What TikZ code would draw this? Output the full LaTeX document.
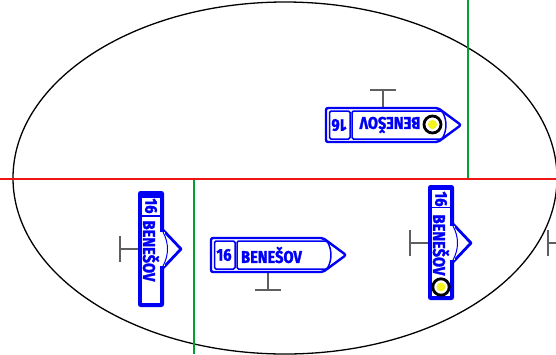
\documentclass[tikz,border=0pt]{standalone}
\usepackage{fontspec}
\newfontfamily\signfont{Fira Sans}[UprightFont=* Bold,FakeBold=1.6,FakeStretch=0.86]
\definecolor{signblue}{RGB}{0,0,245}
\definecolor{axisred}{RGB}{240,20,20}
\definecolor{axisgreen}{RGB}{0,160,50}
\definecolor{postgray}{RGB}{95,95,95}
\definecolor{dotyellow}{RGB}{245,245,30}
\tikzset{
 signtxt/.style={text=signblue,inner sep=0pt,font=\signfont\fontsize{17}{18}\selectfont},
 postline/.style={draw=postgray,line width=2.4pt},
 frameouter/.style={draw=signblue,fill=white,line width=2.4pt,rounded corners=2pt,line join=round},
 frameinner/.style={draw=signblue,fill=white,line width=1.5pt,rounded corners=1.5pt},
 dotring/.style={draw=black,fill=white,line width=2.8pt},
 dotcore/.style={fill=dotyellow,draw=none}
}
\newcommand{\longsign}{%
 \draw[postline] (0,17)--(0,35) (-13,35)--(13,35);
 \draw[frameouter] (-57,-17)--(55,-17)--(78,0)--(55,17)--(-57,17)--cycle;
 \draw[frameinner] (-53.5,-14)--(-33,-14)--(-33,14)--(-53.5,14)--cycle;
 \draw[frameinner] (-31,-14)--(59,-14) .. controls (64,-5) and (64,5) .. (59,14)--(-31,14)--cycle;
}
% #1 = top of the white number box, #2 = height of the sign
\newcommand{\tallsign}[2]{%
 \draw[postline] (0,58)--(-18,58) (-18,45)--(-18,71);
 \draw[draw=signblue,fill=white,line width=2.8pt,line join=round] (25,39)--(43,58)--(25,77)--cycle;
 \fill[signblue,rounded corners=2.5pt] (0,0) rectangle (26,#2);
 \fill[white] (4,#1) rectangle (22,#1+17);
 \fill[white] (4,#1+18.6) rectangle (22,#2-4);
 \fill[white] (21,41) rectangle (26.5,75);
 \draw[signblue,line width=1pt] (25,41) .. controls (31,52) and (31,64) .. (25,75);
}
\begin{document}
\begin{tikzpicture}[x=1pt,y=-1pt]
\useasboundingbox (0,0) rectangle (556,354);
\fill[white] (0,0) rectangle (556,354);
\coordinate (redL) at (0,179); \coordinate (redR) at (556,179);
\coordinate (g1a) at (194,179); \coordinate (g1b) at (194,354);
\coordinate (g2a) at (468,0); \coordinate (g2b) at (468,179);
\draw[black,line width=1.3pt] (285,178) ellipse [x radius=272,y radius=176];
\draw[axisgreen,line width=1.3pt] (g1a)--(g1b) (g2a)--(g2b);
\draw[axisred,line width=1.3pt] (redL)--(redR);
% lower horizontal sign
\begin{scope}[shift={(268,255)}]\longsign\end{scope}
\node[signtxt] (lo16) at (224,255) {16};
\node[signtxt] (loname) at (271.5,255) {BENEŠOV};
% upper mirrored sign
\begin{scope}[shift={(383,125)},yscale=-1]\longsign\end{scope}
\node[signtxt,rotate=180] (up16) at (339,125) {16};
\node[signtxt,rotate=180] (upname) at (390,125) {BENEŠOV};
\draw[dotring] (432.5,124.5) circle (8.5);
\fill[dotcore] (432.5,124.5) circle (4.6);
% left tall sign
\begin{scope}[shift={(138,191)}]\tallsign{7}{116}\end{scope}
\node[signtxt,rotate=-90] (le16) at (151,206) {16};
\node[signtxt,rotate=-90] (lename) at (151,251) {BENEŠOV};
% right tall sign
\begin{scope}[shift={(428,185)}]\tallsign{4.5}{115}\end{scope}
\node[signtxt,rotate=-90] (ri16) at (441,199) {16};
\node[signtxt,rotate=-90] (riname) at (441,245) {BENEŠOV};
\draw[dotring] (441,287) circle (8.2);
\fill[dotcore] (441,287) circle (4.4);
% cut-off post at the right edge
\draw[postline] (556,243)--(548,243) (548,230)--(548,256);
\end{tikzpicture}
\end{document}
